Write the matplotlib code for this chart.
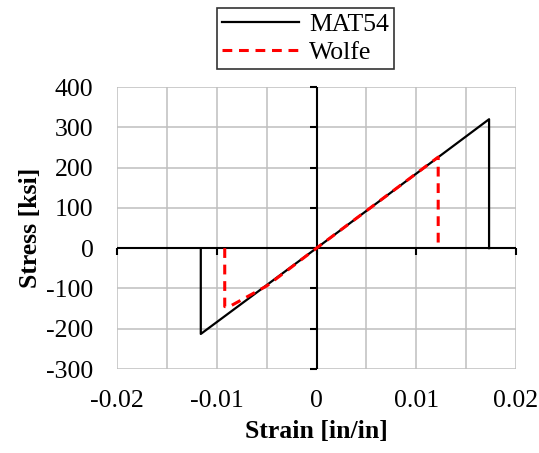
"""Stress-strain comparison, MAT54 vs Wolfe -> out.png"""
import matplotlib
matplotlib.use("Agg")
import matplotlib.pyplot as plt
from matplotlib.ticker import MultipleLocator

# MAT54 response (strain in/in, stress ksi)
mat54_strain = [-0.0116, -0.0116, 0.0, 0.0173, 0.0173]
mat54_stress = [0, -213, 0, 320, 0]

# Wolfe response
wolfe_strain = [-0.0092, -0.0092, -0.0088, -0.0050, 0.0, 0.0122, 0.0122]
wolfe_stress = [0, -145, -146, -94, 0, 226, 0]

xticks = [-0.02, -0.01, 0, 0.01, 0.02]
xtick_labels = ["-0.02", "-0.01", "0", "0.01", "0.02"]
yticks = [400, 300, 200, 100, 0, -100, -200, -300]

plt.rcParams["font.family"] = ["Liberation Serif", "DejaVu Serif"]
plt.rcParams["axes.unicode_minus"] = False
FS = 18.5

fig = plt.figure(figsize=(5.39, 4.53), dpi=100)
ax = fig.add_axes([117 / 539, 1 - 369 / 453, 399 / 539, 282 / 453])

ax.set_xlim(-0.02, 0.02)
ax.set_ylim(-300, 400)
ax.set_xticks(xticks)
ax.set_xticklabels(xtick_labels)
ax.set_yticks(yticks)
ax.xaxis.set_minor_locator(MultipleLocator(0.005))
ax.grid(True, which="both", color="#bfbfbf", lw=1.1)
ax.set_axisbelow(True)
ax.tick_params(axis="both", which="both", length=0, labelsize=FS)
ax.tick_params(axis="x", pad=15)
ax.tick_params(axis="y", pad=17)
for s in ax.spines.values():
    s.set_visible(False)

# axis lines through the origin, with Excel-style tick marks
ax.axhline(0, color="k", lw=1.5, zorder=2)
ax.axvline(0, color="k", lw=1.5, zorder=2)
ax.plot(xticks, [0] * len(xticks), ls="none", marker=3, ms=5, mew=1.5,
        color="k", clip_on=False, zorder=2)
ax.plot([0] * len(yticks), yticks, ls="none", marker=0, ms=5, mew=1.5,
        color="k", clip_on=False, zorder=2)

ax.plot(mat54_strain, mat54_stress, color="k", lw=1.6, label="MAT54", zorder=3)
ax.plot(wolfe_strain, wolfe_stress, color="red", lw=2.2, dashes=(3.2, 2.2),
        label="Wolfe", zorder=4)

ax.set_xlabel("Strain [in/in]", fontsize=FS, fontweight="bold", labelpad=6)
ax.set_ylabel("Stress [ksi]", fontsize=FS, fontweight="bold", labelpad=3)

leg = fig.legend(loc="upper center", bbox_to_anchor=(305.5 / 539, 1 - 8 / 453),
                 fontsize=FS, frameon=True, fancybox=False, edgecolor="k",
                 handlelength=3.0, borderpad=0.2, labelspacing=0.2,
                 handletextpad=0.4, borderaxespad=0)
leg.get_frame().set_linewidth(1.2)

fig.savefig("out.png", dpi=100)
